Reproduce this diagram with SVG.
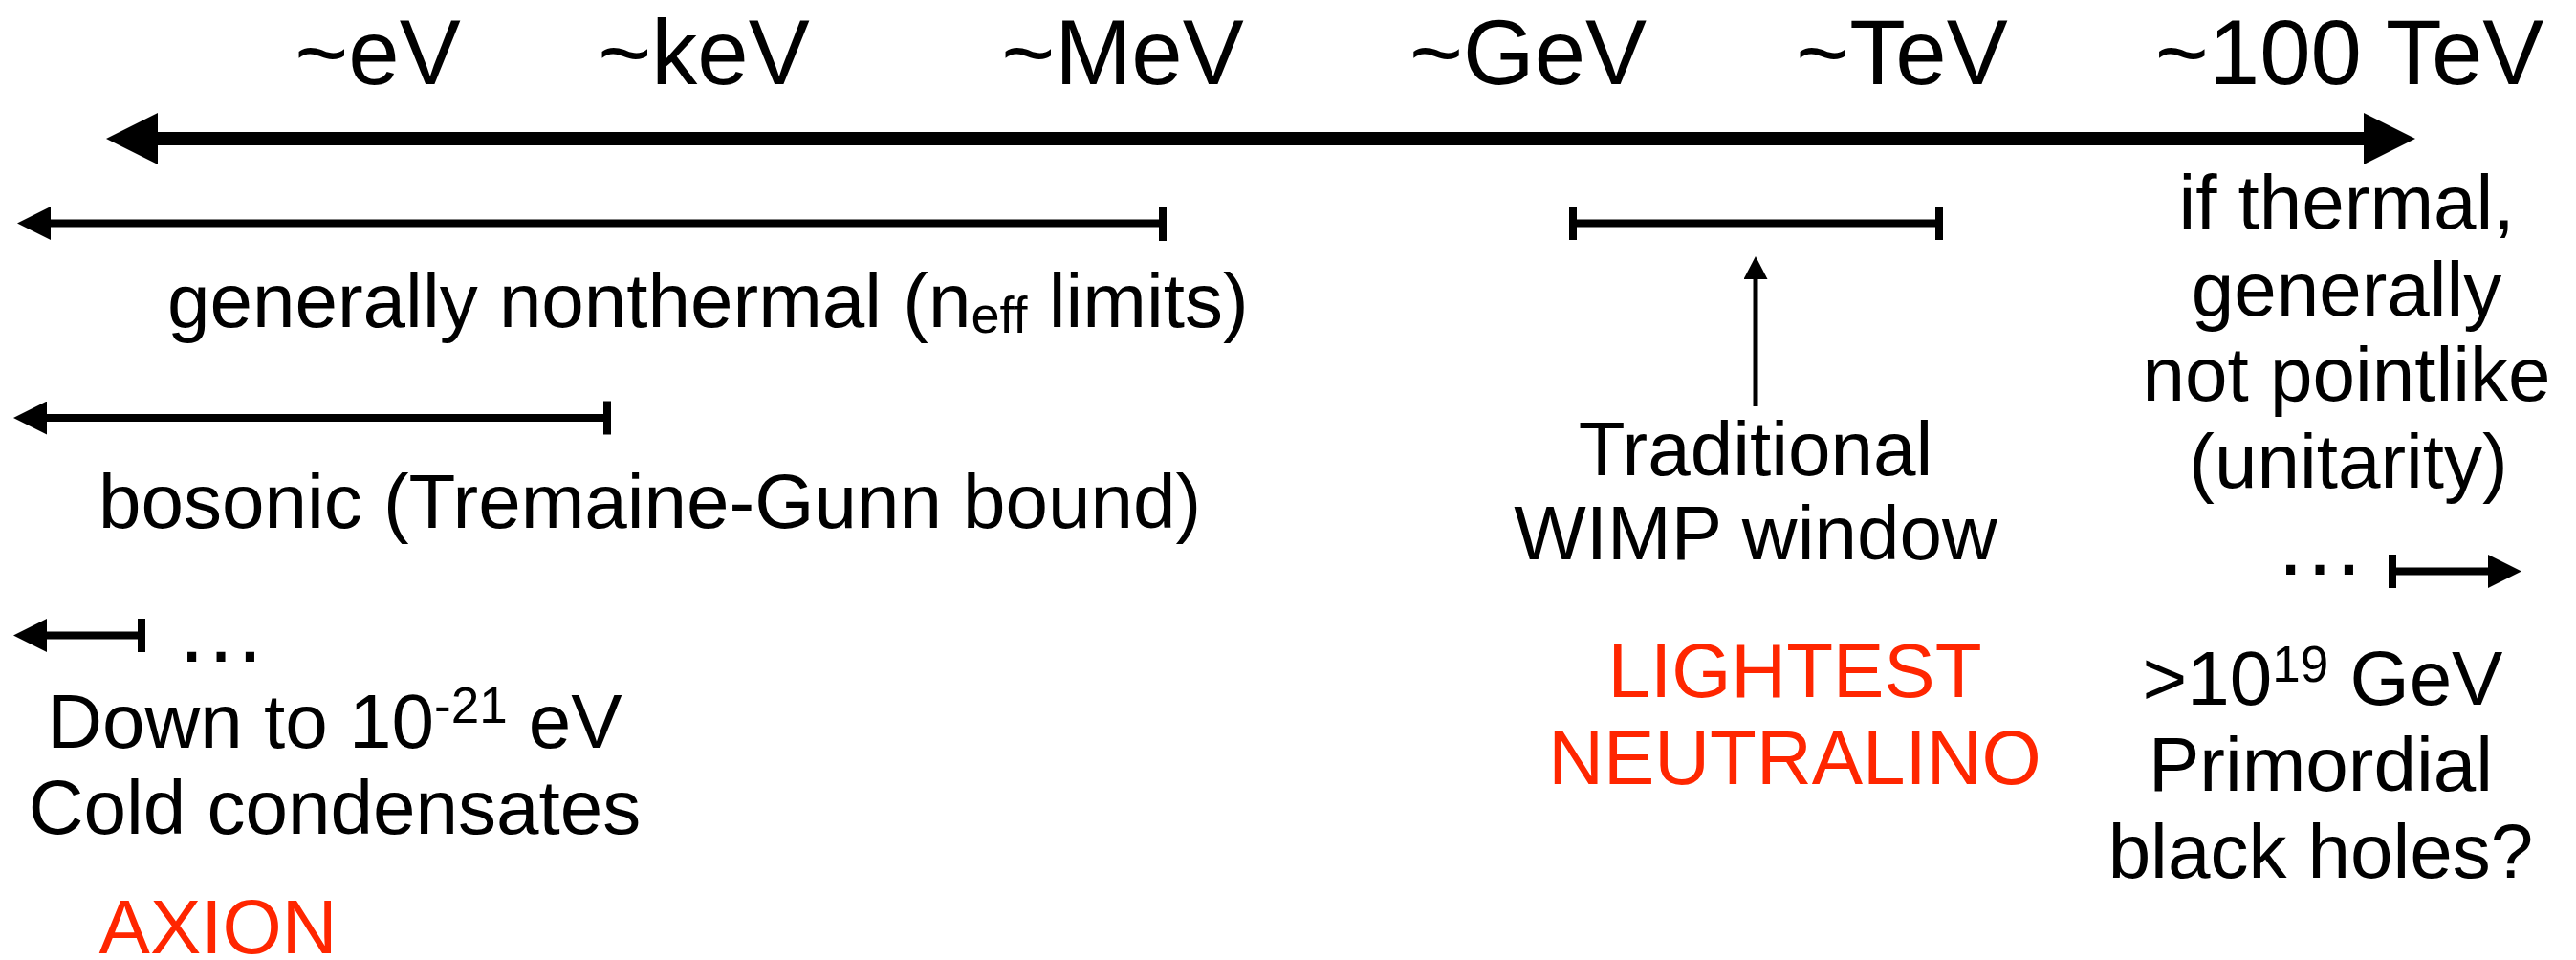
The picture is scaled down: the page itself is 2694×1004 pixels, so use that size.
<svg xmlns="http://www.w3.org/2000/svg" width="2694" height="1004" viewBox="0 0 2694 1004">
  <style>
    .t { font-family: "Liberation Sans", Arial, Helvetica, sans-serif; fill: #000000; }
    .big { font-size: 96px; }
    .mid { font-size: 80px; }
    .red { fill: #FF2600; }
    .c { text-anchor: middle; }
    .axis { stroke: #000000; stroke-width: 14; fill: none; }
    .bar { stroke: #000000; stroke-width: 8; fill: none; }
    .tick { stroke: #000000; stroke-width: 8; fill: none; }
    .thin { stroke: #000000; stroke-width: 5; fill: none; }
  </style>
  <defs>
    <marker id="headBig" markerUnits="userSpaceOnUse" markerWidth="54" markerHeight="54" viewBox="0 0 54 54" refX="0" refY="27" orient="auto-start-reverse">
      <path d="M0,0 L54,27 L0,54 z" fill="#000000"/>
    </marker>
    <marker id="headSmall" markerUnits="userSpaceOnUse" markerWidth="35" markerHeight="35" viewBox="0 0 35 35" refX="0" refY="17.5" orient="auto-start-reverse">
      <path d="M0,0 L35,17.5 L0,35 z" fill="#000000"/>
    </marker>
    <marker id="headTiny" markerUnits="userSpaceOnUse" markerWidth="24" markerHeight="25" viewBox="0 0 24 25" refX="0" refY="12.5" orient="auto">
      <path d="M0,0 L24,12.5 L0,25 z" fill="#000000"/>
    </marker>
  </defs>
  <rect x="0" y="0" width="2694" height="1004" fill="#ffffff"/>

  <g id="connectors">
    <line id="energy-axis" class="axis" x1="165" y1="145" x2="2472" y2="145" marker-start="url(#headBig)" marker-end="url(#headBig)"/>
    <g id="bar-nonthermal">
      <line class="bar" x1="1216" y1="233.5" x2="53" y2="233.5" marker-end="url(#headSmall)"/>
      <line class="tick" x1="1216" y1="216" x2="1216" y2="252"/>
    </g>
    <g id="bar-bosonic">
      <line class="bar" x1="635" y1="437" x2="49" y2="437" marker-end="url(#headSmall)"/>
      <line class="tick" x1="635" y1="419.5" x2="635" y2="454.5"/>
    </g>
    <g id="bar-axion">
      <line class="bar" x1="148" y1="664.5" x2="49" y2="664.5" marker-end="url(#headSmall)"/>
      <line class="tick" x1="148" y1="647" x2="148" y2="682"/>
    </g>
    <g id="bar-wimp">
      <line class="bar" x1="1645" y1="233.5" x2="2028" y2="233.5"/>
      <line class="tick" x1="1645" y1="216" x2="1645" y2="251"/>
      <line class="tick" x1="2028" y1="216" x2="2028" y2="251"/>
    </g>
    <line id="wimp-pointer" class="thin" x1="1836" y1="425" x2="1836" y2="292" marker-end="url(#headTiny)"/>
    <g id="bar-pbh">
      <line class="bar" x1="2502" y1="597.5" x2="2602" y2="597.5" marker-end="url(#headSmall)"/>
      <line class="tick" x1="2502" y1="580" x2="2502" y2="615"/>
    </g>
  </g>

  <g id="scale-labels">
    <g id="lbl-ev"><text class="t big c" x="395" y="88">~eV</text></g>
    <g id="lbl-kev"><text class="t big c" x="736" y="88">~keV</text></g>
    <g id="lbl-mev"><text class="t big c" x="1174" y="88">~MeV</text></g>
    <g id="lbl-gev"><text class="t big c" x="1598" y="88">~GeV</text></g>
    <g id="lbl-tev"><text class="t big c" x="1989" y="88">~TeV</text></g>
    <g id="lbl-100tev"><text class="t big c" x="2457" y="88">~100 TeV</text></g>
  </g>

  <g id="node-nonthermal">
    <text class="t mid" x="175" y="342">generally nonthermal (n<tspan font-size="54" dy="6">eff</tspan><tspan dy="-6"> limits)</tspan></text>
  </g>

  <g id="node-bosonic">
    <text class="t mid" x="103" y="552">bosonic (Tremaine-Gunn bound)</text>
  </g>

  <g id="node-axion">
    <text class="t big" x="183" y="692">…</text>
    <text class="t mid c" x="350" y="782">Down to 10<tspan font-size="53" dy="-26">-21</tspan><tspan dy="26"> eV</tspan></text>
    <text class="t mid c" x="350" y="872">Cold condensates</text>
    <text class="t mid c red" x="228" y="997">AXION</text>
  </g>

  <g id="node-wimp">
    <text class="t mid c" x="1836" y="497">Traditional</text>
    <text class="t mid c" x="1836" y="585">WIMP window</text>
  </g>

  <g id="node-neutralino">
    <text class="t mid c red" x="1877" y="729">LIGHTEST</text>
    <text class="t mid c red" x="1877" y="820">NEUTRALINO</text>
  </g>

  <g id="node-unitarity">
    <text class="t mid c" x="2454" y="239">if thermal,</text>
    <text class="t mid c" x="2454" y="330">generally</text>
    <text class="t mid c" x="2454" y="419">not pointlike</text>
    <text class="t mid c" x="2456" y="510">(unitarity)</text>
  </g>

  <g id="node-pbh">
    <text class="t big" x="2378" y="601">…</text>
    <text class="t mid c" x="2429" y="737">&gt;10<tspan font-size="53" dy="-24">19</tspan><tspan dy="24"> GeV</tspan></text>
    <text class="t mid c" x="2427" y="827">Primordial</text>
    <text class="t mid c" x="2427" y="918">black holes?</text>
  </g>
</svg>
